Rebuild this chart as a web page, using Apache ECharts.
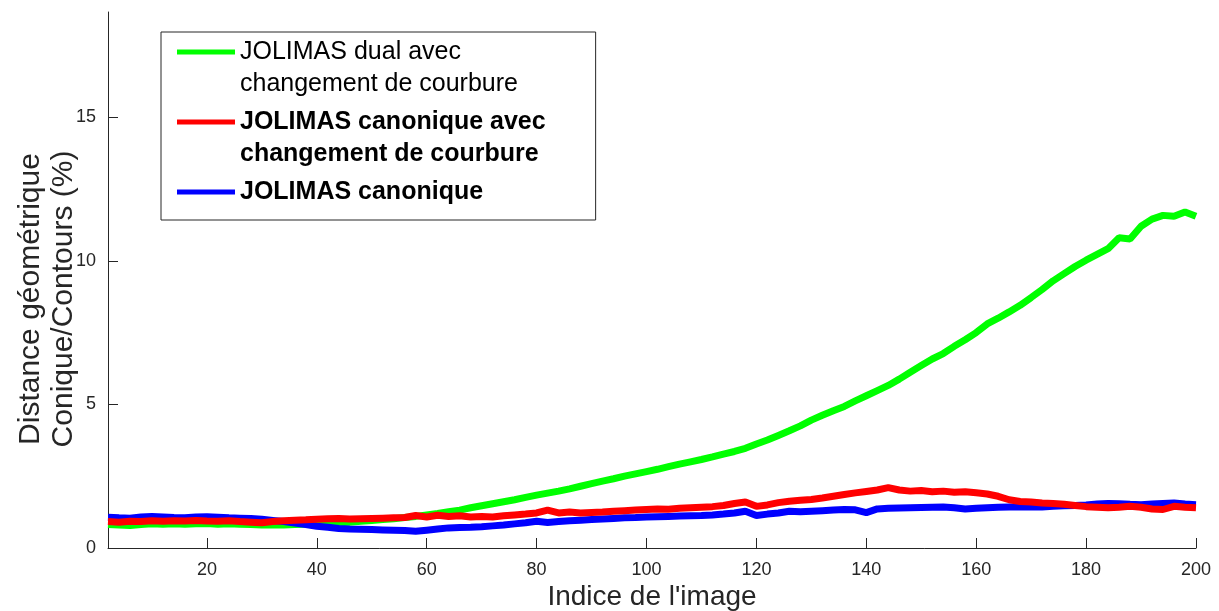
<!DOCTYPE html>
<html>
<head>
<meta charset="utf-8">
<script src="https://cdn.jsdelivr.net/npm/echarts@6/dist/echarts.min.js"></script>
<style>
  html, body { margin: 0; padding: 0; background: #fff; }
  #chart { width: 1219px; height: 611px; }
</style>
</head>
<body>
<div id="chart"></div>
<script>
// indices d'image (abscisses)
const imageIndex = [
  2, 4, 6, 8, 10, 12, 14, 16, 18, 20, 22, 24, 26, 28, 30, 32, 34, 36, 38, 40,
  42, 44, 46, 48, 50, 52, 54, 56, 58, 60, 62, 64, 66, 68, 70, 72, 74, 76, 78, 80,
  82, 84, 86, 88, 90, 92, 94, 96, 98, 100, 102, 104, 106, 108, 110, 112, 114, 116, 118, 120,
  122, 124, 126, 128, 130, 132, 134, 136, 138, 140, 142, 144, 146, 148, 150, 152, 154, 156, 158, 160,
  162, 164, 166, 168, 170, 172, 174, 176, 178, 180, 182, 184, 186, 188, 190, 192, 194, 196, 198, 200
];

// JOLIMAS dual avec changement de courbure
const dualCourbure = [
  0.82, 0.80, 0.78, 0.82, 0.84, 0.83, 0.84, 0.83, 0.84, 0.85, 0.83, 0.84, 0.83, 0.82, 0.80, 0.81, 0.80, 0.82, 0.83, 0.84,
  0.86, 0.88, 0.90, 0.93, 0.96, 0.99, 1.02, 1.06, 1.10, 1.15, 1.20, 1.26, 1.32, 1.40, 1.47, 1.54, 1.61, 1.68, 1.76, 1.84,
  1.91, 1.98, 2.06, 2.15, 2.24, 2.33, 2.41, 2.50, 2.58, 2.66, 2.74, 2.83, 2.92, 3.00, 3.08, 3.17, 3.27, 3.36, 3.47, 3.62,
  3.76, 3.92, 4.08, 4.25, 4.45, 4.62, 4.78, 4.93, 5.12, 5.30, 5.48, 5.66, 5.88, 6.12, 6.35, 6.58, 6.77, 7.02, 7.25, 7.50,
  7.80, 8.00, 8.22, 8.45, 8.72, 9.00, 9.30, 9.55, 9.80, 10.02, 10.22, 10.42, 10.80, 10.76, 11.20, 11.45, 11.58, 11.55, 11.70, 11.55
];

// JOLIMAS canonique avec changement de courbure
const canoniqueCourbure = [
  0.92, 0.90, 0.93, 0.92, 0.95, 0.93, 0.95, 0.94, 0.96, 0.94, 0.93, 0.95, 0.92, 0.90, 0.88, 0.92, 0.95, 0.97, 0.98, 1.00,
  1.02, 1.03, 1.01, 1.02, 1.03, 1.04, 1.05, 1.06, 1.13, 1.08, 1.14, 1.10, 1.12, 1.08, 1.10, 1.08, 1.12, 1.15, 1.18, 1.22,
  1.32, 1.22, 1.25, 1.22, 1.24, 1.25, 1.28, 1.30, 1.32, 1.34, 1.36, 1.35, 1.38, 1.40, 1.42, 1.44, 1.48, 1.55, 1.60, 1.45,
  1.50, 1.58, 1.63, 1.66, 1.69, 1.74, 1.80, 1.86, 1.92, 1.97, 2.02, 2.10, 2.02, 1.98, 2.00, 1.96, 1.98, 1.94, 1.96, 1.92,
  1.88, 1.80, 1.68, 1.62, 1.60, 1.57, 1.55, 1.52, 1.48, 1.44, 1.42, 1.40, 1.42, 1.45, 1.42, 1.36, 1.34, 1.45, 1.42, 1.40
];

// JOLIMAS canonique
const canonique = [
  1.07, 1.05, 1.04, 1.08, 1.10, 1.08, 1.06, 1.05, 1.08, 1.09, 1.07, 1.05, 1.04, 1.03, 1.00, 0.96, 0.92, 0.87, 0.82, 0.76,
  0.72, 0.68, 0.66, 0.65, 0.64, 0.63, 0.62, 0.61, 0.58, 0.62, 0.66, 0.70, 0.71, 0.72, 0.74, 0.77, 0.80, 0.84, 0.88, 0.93,
  0.89, 0.92, 0.95, 0.97, 0.99, 1.01, 1.03, 1.05, 1.06, 1.08, 1.09, 1.10, 1.11, 1.12, 1.13, 1.15, 1.18, 1.22, 1.28, 1.13,
  1.18, 1.22, 1.28, 1.26, 1.28, 1.30, 1.32, 1.34, 1.33, 1.23, 1.36, 1.38, 1.39, 1.40, 1.41, 1.42, 1.43, 1.40, 1.36, 1.38,
  1.40, 1.42, 1.43, 1.43, 1.44, 1.43, 1.45, 1.47, 1.48, 1.50, 1.53, 1.55, 1.54, 1.52, 1.51, 1.53, 1.55, 1.57, 1.53, 1.51
];

const xTicks = [20, 40, 60, 80, 100, 120, 140, 160, 180, 200];
const yTicks = [0, 5, 10, 15];

const names = [
  'JOLIMAS dual avec\nchangement de courbure',
  'JOLIMAS canonique avec\nchangement de courbure',
  'JOLIMAS canonique'
];

const pairs = vals => imageIndex.map((x, i) => [x, vals[i]]);

const chart = echarts.init(document.getElementById('chart'));
const axisColor = '#262626';
const font = 'Liberation Sans';
// icône de légende : trait en haut de la boîte, aligné sur la première ligne
const legendIcon = 'path://M0,0L0,0M0,13.5L58,13.5L58,18.5L0,18.5ZM0,64L0,64';

chart.setOption({
  animation: false,
  textStyle: { fontFamily: font },
  grid: { left: 108, right: 23, top: 12, bottom: 63, containLabel: false, outerBoundsMode: 'none' },
  legend: {
    orient: 'vertical',
    left: 161,
    top: 32,
    padding: [4, 50, -20, 16],
    itemGap: 6,
    itemWidth: 58,
    itemHeight: 64,
    icon: legendIcon,
    backgroundColor: '#fff',
    borderColor: axisColor,
    borderWidth: 1,
    borderRadius: 0,
    itemStyle: { borderWidth: 0 },
    selectedMode: false,
    formatter: name => name.indexOf('\n') < 0 ? name + '\n ' : name,
    textStyle: { fontFamily: font, fontSize: 25, lineHeight: 32, color: '#000' },
    data: [
      { name: names[0], textStyle: { fontWeight: 'normal' } },
      { name: names[1], textStyle: { fontWeight: 'bold' } },
      { name: names[2], textStyle: { fontWeight: 'bold' } }
    ]
  },
  xAxis: {
    type: 'value',
    min: 2,
    max: 200,
    name: "Indice de l'image",
    nameLocation: 'middle',
    nameGap: 35,
    nameMoveOverlap: false,
    nameTextStyle: { fontFamily: font, fontSize: 28, color: axisColor },
    axisLine: { onZero: false, lineStyle: { color: axisColor, width: 1 } },
    axisTick: { inside: true, length: 10, customValues: xTicks, lineStyle: { color: axisColor } },
    axisLabel: { customValues: xTicks, margin: 13, fontSize: 18, color: axisColor, fontFamily: font },
    splitLine: { show: false }
  },
  yAxis: {
    type: 'value',
    min: 0,
    max: 18.66,
    name: 'Distance géométrique\nConique/Contours (%)',
    nameLocation: 'middle',
    nameGap: 28,
    nameMoveOverlap: false,
    nameTextStyle: { fontFamily: font, fontSize: 30, lineHeight: 33, color: axisColor, padding: [0, 38, 0, 0] },
    axisLine: { show: true, lineStyle: { color: axisColor, width: 1 } },
    axisTick: { show: true, inside: true, length: 10, customValues: yTicks, lineStyle: { color: axisColor } },
    axisLabel: { customValues: yTicks, margin: 12, fontSize: 18, color: axisColor, fontFamily: font },
    splitLine: { show: false }
  },
  series: [
    {
      name: names[0], type: 'line', data: pairs(dualCourbure),
      showSymbol: false, symbol: 'none', color: '#00ff00',
      lineStyle: { width: 7, color: '#00ff00' }, z: 2
    },
    {
      name: names[2], type: 'line', data: pairs(canonique),
      showSymbol: false, symbol: 'none', color: '#0000ff',
      lineStyle: { width: 7, color: '#0000ff' }, z: 3
    },
    {
      name: names[1], type: 'line', data: pairs(canoniqueCourbure),
      showSymbol: false, symbol: 'none', color: '#ff0000',
      lineStyle: { width: 7, color: '#ff0000' }, z: 4
    }
  ]
});
</script>
</body>
</html>
